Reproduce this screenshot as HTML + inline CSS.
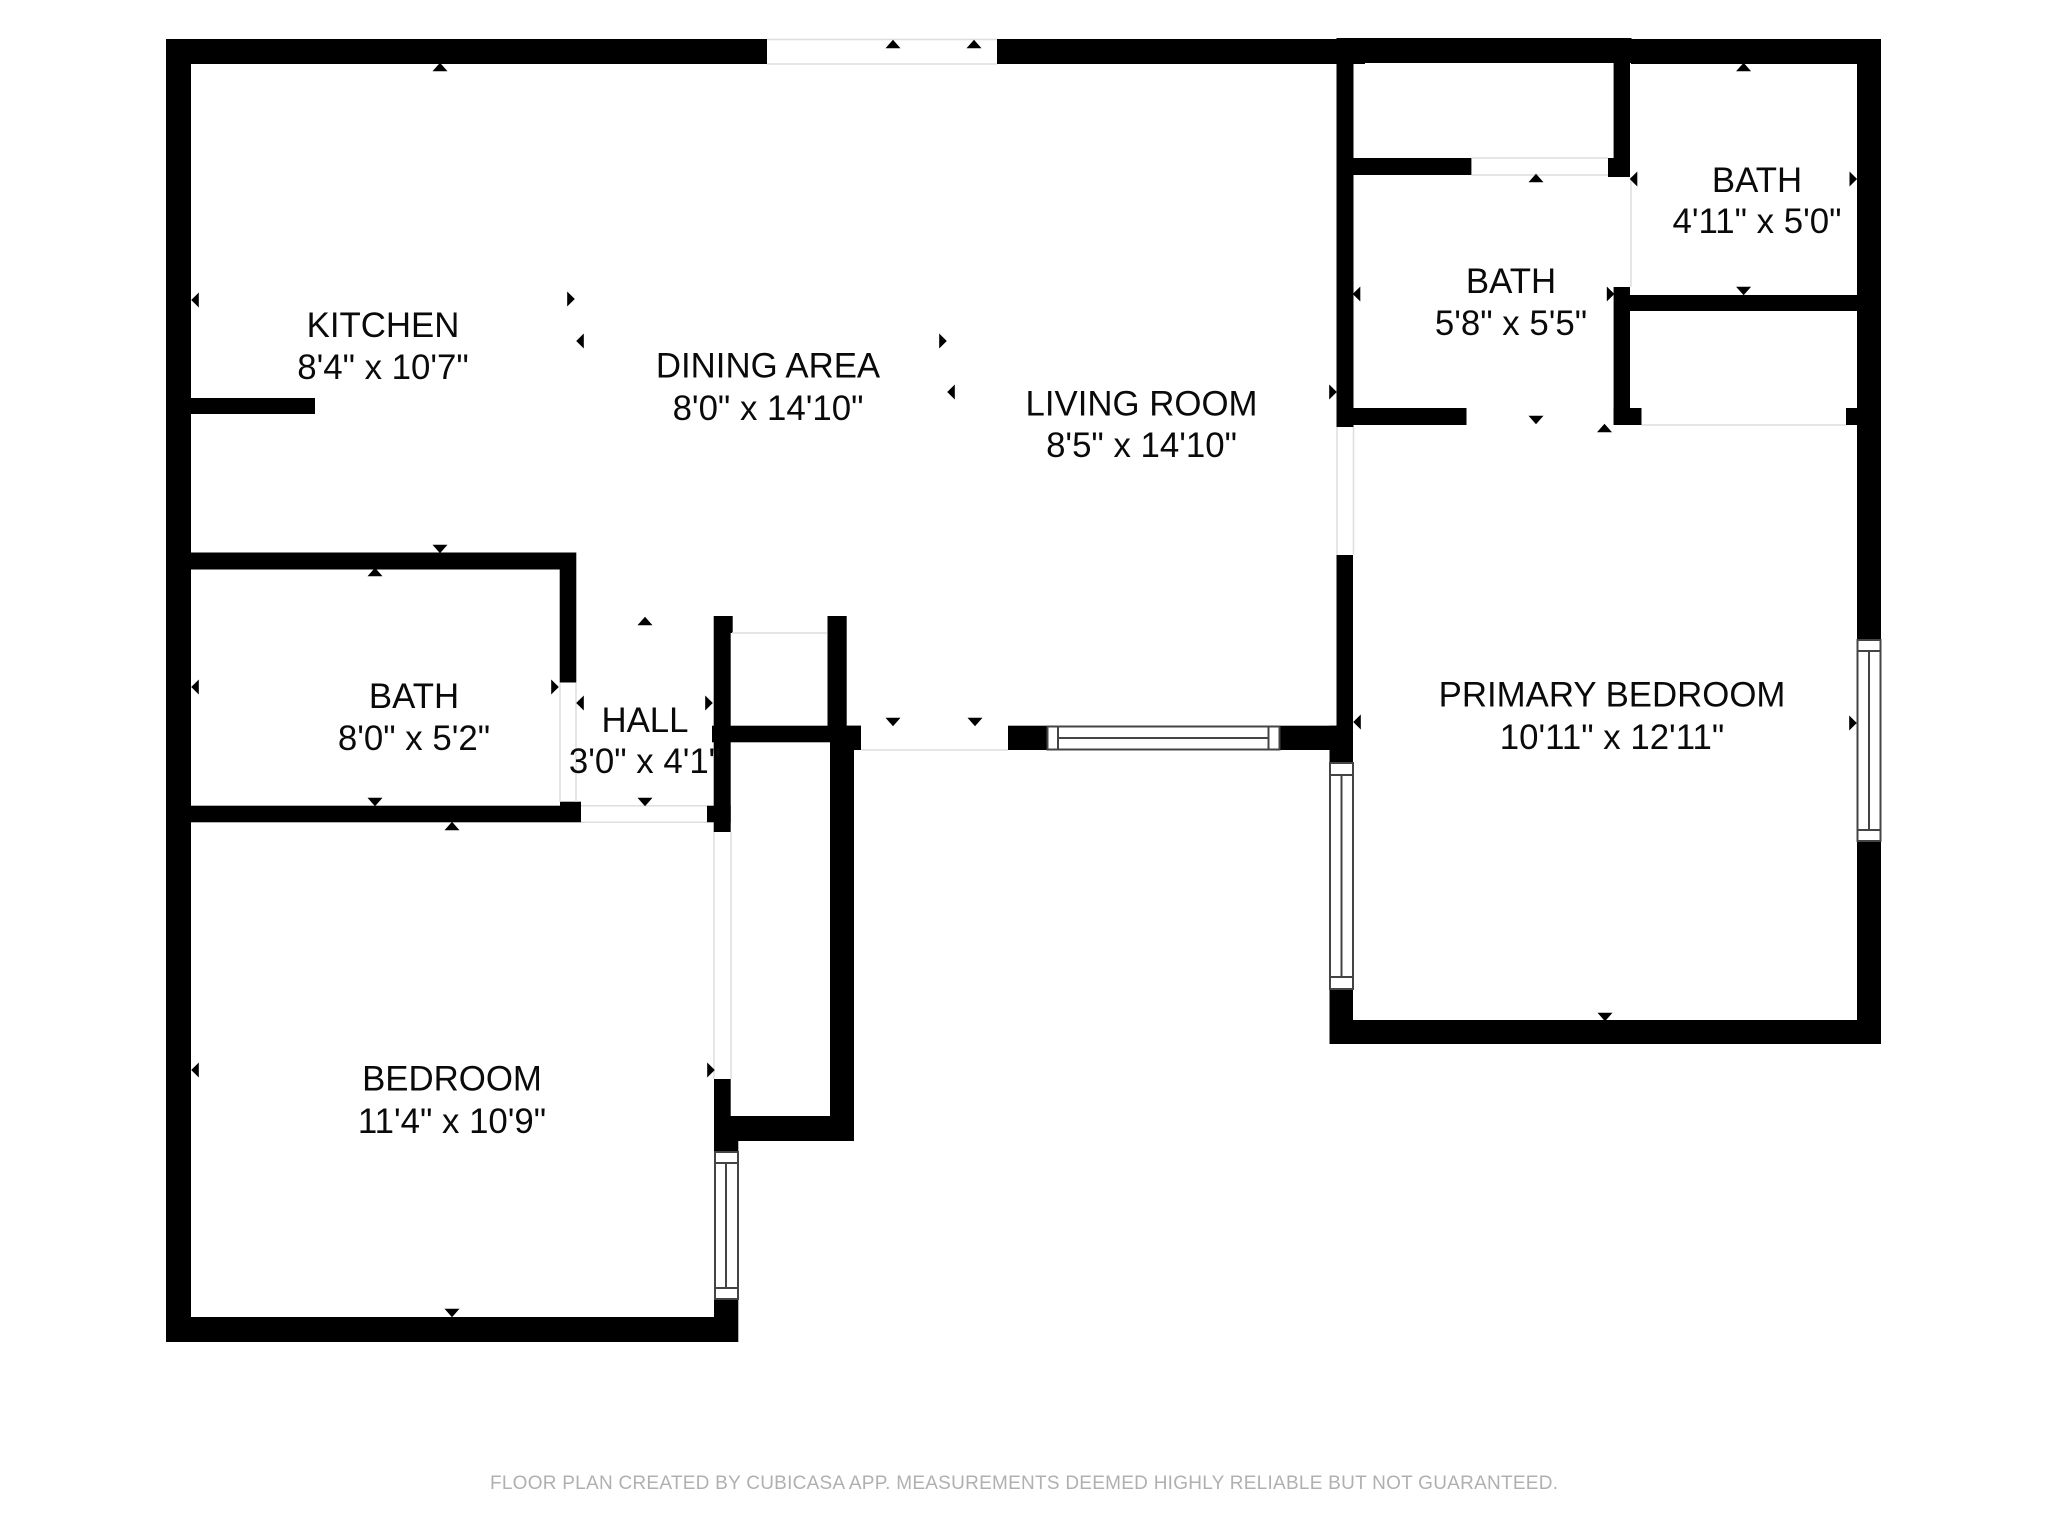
<!DOCTYPE html>
<html><head><meta charset="utf-8"><title>Floor plan</title>
<style>html,body{margin:0;padding:0;background:#fff;width:2048px;height:1536px;overflow:hidden}svg{display:block}
text{font-family:"Liberation Sans",sans-serif;font-size:34.8px;text-anchor:middle;fill:#0a0a0a}
.g{fill:none;stroke:#dedede;stroke-width:1.5}.w{fill:none;stroke:#444;stroke-width:2}</style></head>
<body><svg width="2048" height="1536" viewBox="0 0 2048 1536" xmlns="http://www.w3.org/2000/svg">
<defs>
<polygon id="u" points="-7.5,4.2 7.5,4.2 0,-4.2"/><polygon id="d" points="-7.5,-4.2 7.5,-4.2 0,4.2"/>
<polygon id="l" points="3.8,-7.5 3.8,7.5 -3.8,0"/><polygon id="r" points="-3.8,-7.5 -3.8,7.5 3.8,0"/>
</defs>
<rect width="2048" height="1536" fill="#fff"/>
<g fill="#000">
<!-- outer top -->
<rect x="166" y="39" width="601" height="25"/>
<rect x="997" y="39" width="368" height="25"/>
<rect x="1631" y="39" width="250" height="25"/>
<rect x="1336.5" y="38" width="295" height="25"/>
<!-- left -->
<rect x="166" y="39" width="25" height="1303"/>
<rect x="166" y="1317" width="572" height="25"/>
<!-- right -->
<rect x="1857" y="39" width="24" height="601"/>
<rect x="1857" y="841" width="24" height="203"/>
<rect x="1329.5" y="1020" width="551.5" height="24"/>
<rect x="1329.5" y="989" width="23.5" height="55"/>
<!-- kitchen stub -->
<rect x="191" y="398" width="124" height="16"/>
<!-- bath left -->
<rect x="191" y="552.5" width="385" height="17"/>
<rect x="559.7" y="552.5" width="16.6" height="130"/>
<rect x="191" y="805.7" width="390" height="16.6"/>
<rect x="560" y="801.7" width="21" height="20"/>
<!-- hall / closet -->
<rect x="713.7" y="616" width="17" height="216"/>
<rect x="714" y="616" width="18.7" height="17"/>
<rect x="707" y="805.7" width="23.7" height="16.6"/>
<rect x="712" y="725.7" width="149" height="16.6"/>
<rect x="827.5" y="616" width="19.2" height="126"/>
<rect x="830" y="742" width="24" height="399"/>
<rect x="846.7" y="725.7" width="14.3" height="24.3"/>
<rect x="714" y="1116" width="140" height="25"/>
<rect x="714" y="1079" width="16.7" height="62"/>
<rect x="714" y="1116" width="24.3" height="36"/>
<rect x="714" y="1299" width="24.3" height="43"/>
<!-- living south -->
<rect x="1008" y="725.7" width="39.5" height="24.3"/>
<rect x="1280" y="725.7" width="73" height="24.3"/>
<rect x="1329.5" y="725.7" width="23.5" height="37.3"/>
<!-- primary west -->
<rect x="1336.5" y="555" width="16.5" height="208"/>
<rect x="1336.5" y="38" width="17" height="389"/>
<!-- baths -->
<rect x="1353" y="158" width="118.4" height="17"/>
<rect x="1608" y="158" width="22" height="19"/>
<rect x="1613.6" y="50" width="16.4" height="127"/>
<rect x="1613.6" y="287" width="16.4" height="138"/>
<rect x="1630" y="295" width="227" height="16"/>
<rect x="1353" y="408" width="113.5" height="17"/>
<rect x="1613.6" y="408" width="27.9" height="17"/>
<rect x="1846" y="408" width="11" height="17"/>
</g>
<!-- light openings -->
<g class="g">
<path d="M767 39.5H997M767 64H997"/>
<path d="M1471.4 158H1608M1471.4 175H1608"/>
<path d="M1631 177V287"/>
<path d="M1641.5 425H1846"/>
<path d="M1337 427V555M1353.5 427V555"/>
<path d="M560 683V802M576 683V802"/>
<path d="M581 805.7H707M581 822.3H707"/>
<path d="M732 633H827"/>
<path d="M714 832V1079M731 832V1079"/>
<path d="M861 750H1008"/>
</g>
<!-- windows -->
<g class="w">
<rect x="1047.5" y="726.5" width="232" height="23"/>
<path d="M1058 726.5V749.5M1268.5 726.5V749.5M1058 738H1268.5"/>
<rect x="1330" y="763" width="23" height="226"/>
<path d="M1330 775H1353M1330 977H1353M1341.5 775V977"/>
<rect x="1857.5" y="640" width="23" height="201"/>
<path d="M1857.5 651H1880.5M1857.5 830H1880.5M1869 651V830"/>
<rect x="715" y="1152" width="23" height="147"/>
<path d="M715 1163H738M715 1288H738M726 1163V1288"/>
</g>
<!-- markers -->
<g fill="#000">
<use href="#u" x="440" y="67"/><use href="#u" x="893" y="44"/><use href="#u" x="974" y="44"/>
<use href="#l" x="195" y="300"/><use href="#r" x="571" y="299"/><use href="#l" x="580" y="341"/><use href="#r" x="943" y="341"/><use href="#l" x="951" y="392"/><use href="#r" x="1333" y="392"/>
<use href="#d" x="440" y="549"/><use href="#u" x="375" y="572"/><use href="#l" x="195" y="687"/><use href="#r" x="555" y="687"/>
<use href="#l" x="580" y="703"/><use href="#r" x="709" y="703"/><use href="#u" x="645" y="621"/><use href="#d" x="645" y="802"/>
<use href="#d" x="375" y="802"/><use href="#u" x="452" y="826"/><use href="#l" x="195" y="1070"/><use href="#r" x="711" y="1070"/><use href="#d" x="452" y="1313"/>
<use href="#d" x="893" y="722"/><use href="#d" x="975" y="722"/><use href="#l" x="1357" y="722"/><use href="#r" x="1853" y="723"/><use href="#d" x="1605" y="1017"/>
<use href="#u" x="1743.6" y="67"/><use href="#l" x="1633.5" y="179"/><use href="#r" x="1853.3" y="179"/><use href="#d" x="1743.6" y="291"/>
<use href="#u" x="1536" y="178"/><use href="#l" x="1356.5" y="294"/><use href="#r" x="1610.6" y="294"/><use href="#d" x="1536" y="420"/><use href="#u" x="1604.5" y="428"/>
</g>
<!-- labels -->
<text x="383" y="337">KITCHEN</text><text x="383" y="379">8'4" x 10'7"</text>
<text x="768" y="377.5">DINING AREA</text><text x="768" y="420">8'0" x 14'10"</text>
<text x="1141.5" y="415.5">LIVING ROOM</text><text x="1141.5" y="457">8'5" x 14'10"</text>
<text x="414" y="708">BATH</text><text x="414" y="750">8'0" x 5'2"</text>
<text x="645" y="732">HALL</text><text x="645" y="773">3'0" x 4'1"</text>
<text x="452" y="1090.5">BEDROOM</text><text x="452" y="1133">11'4" x 10'9"</text>
<text x="1612" y="706.5">PRIMARY BEDROOM</text><text x="1612" y="749">10'11" x 12'11"</text>
<text x="1511" y="293">BATH</text><text x="1511" y="335">5'8" x 5'5"</text>
<text x="1757" y="192">BATH</text><text x="1757" y="233">4'11" x 5'0"</text>
<text x="1024" y="1489" style="font-size:19px;fill:#b0b0b0" textLength="1068" lengthAdjust="spacing">FLOOR PLAN CREATED BY CUBICASA APP. MEASUREMENTS DEEMED HIGHLY RELIABLE BUT NOT GUARANTEED.</text>
</svg></body></html>
